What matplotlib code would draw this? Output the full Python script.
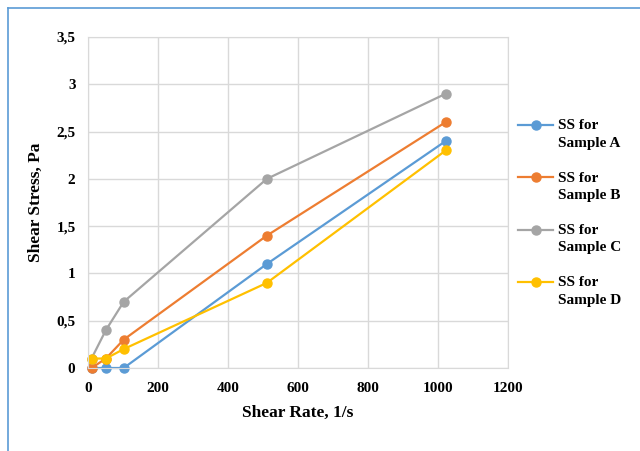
import numpy as np
import matplotlib.pyplot as plt
from matplotlib.lines import Line2D
from matplotlib.ticker import FuncFormatter

plt.rcParams['font.family'] = ['Liberation Serif', 'DejaVu Serif']
plt.rcParams['font.weight'] = 'bold'

shear_rate = [10, 51, 102, 511, 1022]
sample_a = [0, 0, 0, 1.1, 2.4]
sample_b = [0, 0.1, 0.3, 1.4, 2.6]
sample_c = [0.1, 0.4, 0.7, 2.0, 2.9]
sample_d = [0.1, 0.1, 0.2, 0.9, 2.3]
labels = ['SS for\nSample A', 'SS for\nSample B', 'SS for\nSample C', 'SS for\nSample D']
colors = ['#5B9BD5', '#ED7D31', '#A5A5A5', '#FFC000']

fig = plt.figure(figsize=(6.4, 4.51), dpi=100)
ax = fig.add_axes([88 / 640, 1 - 368 / 451, 420 / 640, 331 / 451])

for ys, lab, c in zip([sample_a, sample_b, sample_c, sample_d], labels, colors):
    ax.plot(shear_rate, ys, color=c, lw=1.6, marker='o', ms=6.5, label=lab, clip_on=False)

ax.set_xlim(0, 1200)
ax.set_ylim(0, 3.5)
ax.set_xticks(range(0, 1201, 200))
ax.set_yticks([i * 0.5 for i in range(8)])
ax.yaxis.set_major_formatter(FuncFormatter(lambda v, p: ('%g' % v).replace('.', ',')))
ax.grid(True, color='#D9D9D9', lw=1)
ax.set_axisbelow(True)
for s in ax.spines.values():
    s.set_color('#D9D9D9')
ax.tick_params(length=0, labelsize=11)
ax.tick_params(axis='x', pad=10)
ax.tick_params(axis='y', pad=9)
for t in ax.get_xticklabels() + ax.get_yticklabels():
    t.set_fontweight('bold')
ax.set_xlabel('Shear Rate, 1/s', fontsize=12.5, fontweight='bold', labelpad=7)
ax.set_ylabel('Shear Stress, Pa', fontsize=12.5, fontweight='bold', labelpad=9)

leg = fig.legend(loc='center left', bbox_to_anchor=(518 / 640, 1 - 213 / 451), frameon=False,
                 prop={'size': 11, 'weight': 'bold'}, labelspacing=1.42, handlelength=2.3,
                 handletextpad=0.3, borderpad=0, borderaxespad=0)
for t in leg.get_texts():
    t.set_linespacing(1.45)
# align the marker with the first text line, as Excel does
for h in leg.legend_handles:
    h.set_ydata(np.asarray(h.get_ydata()) + 6.6)

# outer frame (left and top edges visible)
fig.add_artist(Line2D([8 / 640, 8 / 640], [0, 1 - 8 / 451], color='#5B9BD5', lw=1.2))
fig.add_artist(Line2D([8 / 640, 1], [1 - 8 / 451, 1 - 8 / 451], color='#5B9BD5', lw=1.2))

fig.savefig('out.png', dpi=100)
